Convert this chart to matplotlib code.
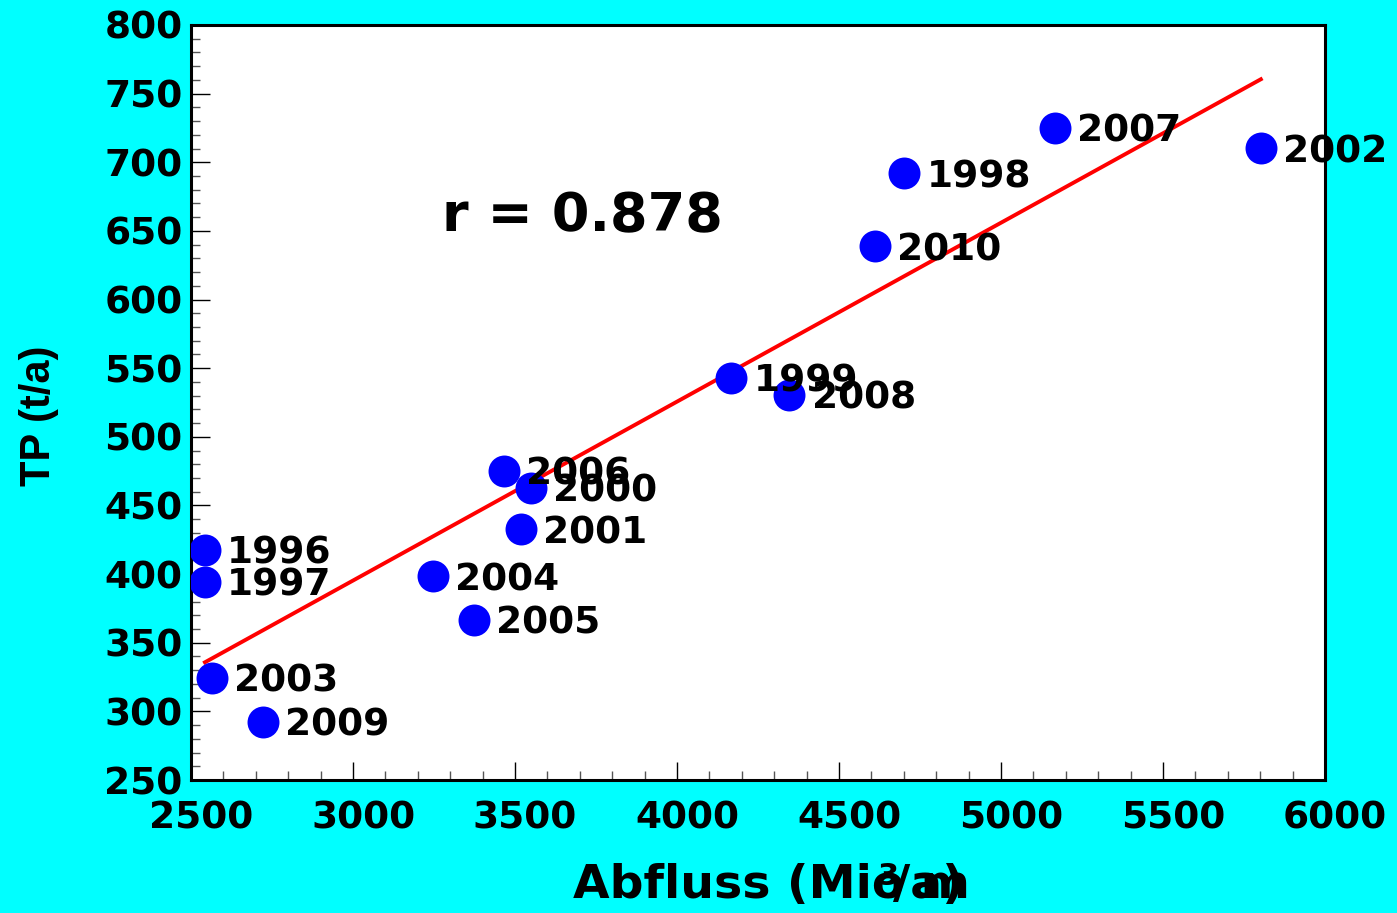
import numpy as np
import matplotlib
matplotlib.use('Agg')
import matplotlib.pyplot as plt
from matplotlib.transforms import ScaledTranslation

years = ['1996', '1997', '2003', '2009', '2004', '2005', '2006', '2000',
         '2001', '1999', '2008', '2010', '1998', '2007', '2002']
abfluss = [2543, 2543, 2564, 2723, 3246, 3373, 3466, 3549,
           3519, 4167, 4347, 4611, 4701, 5167, 5802]
tp = [417.6, 394.5, 324.5, 292.5, 398.6, 366.6, 475.1, 462.9,
      432.6, 543.1, 530.5, 639.0, 692.0, 725.2, 710.2]
x_ticks = [2500, 3000, 3500, 4000, 4500, 5000, 5500, 6000]
y_ticks = [250, 300, 350, 400, 450, 500, 550, 600, 650, 700, 750, 800]

plt.rcParams['font.family'] = ['DejaVu Sans']
plt.rcParams['font.weight'] = 'bold'

W, H = 1397, 913
fig = plt.figure(figsize=(W / 100, H / 100), dpi=100, facecolor='#00FFFF')
ax = fig.add_axes([191 / W, (H - 780) / H, (1325 - 191) / W, (780 - 25) / H])
ax.set_facecolor('white')

x = np.array(abfluss)
y = np.array(tp)
slope, intercept = np.polyfit(x, y, 1)
xl = np.array([x.min(), x.max()])
ax.plot(xl, slope * xl + intercept, color='red', lw=2.8, zorder=2)

ax.plot(x, y, 'o', color='#0000FF', markersize=23, markeredgewidth=0, zorder=3)
for xi, yi, lab in zip(x, y, years):
    ax.annotate(lab, (xi, yi), xytext=(16, 0), textcoords='offset points',
                ha='left', va='center_baseline', fontsize=27, fontweight='bold',
                zorder=4)

ax.text(3274, 650, 'r = 0.878', fontsize=39, fontweight='bold',
        ha='left', va='baseline')

ax.set_xlim(2500, 6000)
ax.set_ylim(250, 800)
ax.set_xticks(x_ticks)
ax.set_yticks(y_ticks)
ax.set_xticks(np.arange(2500, 6001, 100), minor=True)
ax.set_yticks(np.arange(250, 801, 10), minor=True)
ax.tick_params(which='both', direction='in', top=False, right=False)
ax.tick_params(axis='x', which='major', length=13, width=1, pad=15, labelsize=27)
ax.tick_params(axis='y', which='major', length=14, width=1, pad=6, labelsize=27)
ax.tick_params(which='minor', length=6.5, width=1, color='#555555')
for lab in ax.get_xticklabels():
    lab.set_fontweight('bold')
    lab.set_transform(lab.get_transform() + ScaledTranslation(0.1, 0, fig.dpi_scale_trans))
for lab in ax.get_yticklabels():
    lab.set_fontweight('bold')
for sp in ax.spines.values():
    sp.set_linewidth(2.2)

fig.text(39 / W, 1 - 416 / H, 'TP (t/a)', rotation=90, ha='center', va='center',
         fontsize=30, fontweight='bold', family=['Liberation Sans'])
fig.text(573 / W, 1 - 898 / H, 'Abfluss (Mio m', ha='left', va='baseline',
         fontsize=34, fontweight='bold')
fig.text(878 / W, 1 - 885 / H, '3', ha='left', va='baseline',
         fontsize=22, fontweight='bold')
fig.text(893 / W, 1 - 898 / H, '/a)', ha='left', va='baseline',
         fontsize=34, fontweight='bold')

fig.savefig('out.png', dpi=100, facecolor=fig.get_facecolor())
